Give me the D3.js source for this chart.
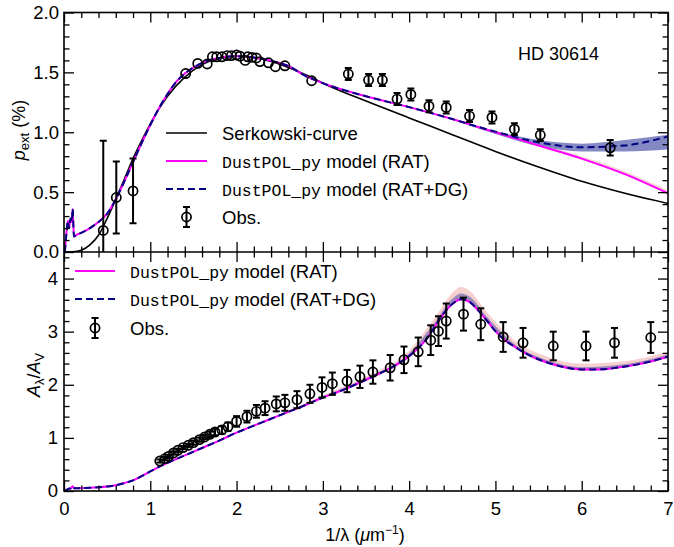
<!DOCTYPE html>
<html>
<head>
<meta charset="utf-8">
<script src="https://cdn.jsdelivr.net/npm/d3@7"></script>
<style>
  body { margin: 0; background: #fff; }
  svg { display: block; }
</style>
</head>
<body>
<svg id="chart" width="674" height="547"></svg>
<script>
// ---------- polarization panel (p_ext, %) ----------
const serkX = [0, 0.1, 0.2, 0.3, 0.4, 0.5, 0.6, 0.7, 0.8, 0.9, 1.0, 1.2, 1.4, 1.6, 1.8, 2.0, 2.2, 2.4, 2.6, 2.8, 3.0, 3.5, 4.0, 4.5, 5.0, 5.5, 6.0, 6.5, 7.0];
const serkP = [0, 0.002, 0.015, 0.06, 0.14, 0.28, 0.44, 0.61, 0.78, 0.93, 1.07, 1.30, 1.46, 1.565, 1.62, 1.635, 1.622, 1.59, 1.54, 1.48, 1.41, 1.26, 1.12, 0.98, 0.84, 0.71, 0.59, 0.49, 0.405];

const polModelX = [0.01, 0.03, 0.045, 0.06, 0.075, 0.09, 0.1, 0.115, 0.15, 0.2, 0.3, 0.4, 0.5, 0.6, 0.7, 0.8, 0.9, 1.0, 1.1, 1.2, 1.3, 1.4, 1.5, 1.6, 1.7, 1.8, 1.9, 2.0, 2.1, 2.2, 2.4, 2.6, 2.8, 3.0, 3.5, 4.0, 4.5, 4.8, 5.0, 5.5, 6.0, 6.5, 7.0];
const polRAT    = [0.0, 0.17, 0.26, 0.20, 0.28, 0.25, 0.36, 0.13, 0.145, 0.16, 0.20, 0.25, 0.32, 0.44, 0.59, 0.75, 0.91, 1.06, 1.20, 1.32, 1.42, 1.49, 1.54, 1.58, 1.605, 1.62, 1.632, 1.635, 1.632, 1.625, 1.597, 1.553, 1.47, 1.41, 1.30, 1.21, 1.11, 1.044, 1.00, 0.89, 0.78, 0.65, 0.49];
const polRATDG  = [0.0, 0.17, 0.26, 0.20, 0.28, 0.25, 0.36, 0.13, 0.145, 0.16, 0.20, 0.25, 0.32, 0.44, 0.59, 0.75, 0.91, 1.06, 1.20, 1.32, 1.42, 1.49, 1.54, 1.58, 1.605, 1.62, 1.632, 1.635, 1.632, 1.625, 1.597, 1.553, 1.47, 1.41, 1.30, 1.21, 1.11, 1.045, 1.005, 0.915, 0.875, 0.89, 0.965];

// uncertainty ranges of the two models
const polBandRATX  = [5.0, 5.5, 6.0, 6.5, 7.0];
const polBandRATLo = [0.99, 0.88, 0.77, 0.64, 0.48];
const polBandRATHi = [1.01, 0.905, 0.80, 0.675, 0.515];
const polBandDGX  = [4.6, 5.0, 5.5, 6.0, 6.5, 7.0];
const polBandDGLo = [1.08, 0.985, 0.885, 0.84, 0.84, 0.855];
const polBandDGHi = [1.09, 1.01, 0.935, 0.905, 0.935, 0.98];

// observed polarization
const polObsX = [0.455, 0.606, 0.80, 1.41, 1.55, 1.66, 1.72, 1.77, 1.83, 1.89, 1.94, 2.00, 2.04, 2.10, 2.13, 2.18, 2.23, 2.27, 2.37, 2.45, 2.56, 2.87, 3.295, 3.53, 3.69, 3.86, 4.02, 4.23, 4.43, 4.70, 4.96, 5.22, 5.52, 6.33];
const polObsP = [0.18, 0.455, 0.51, 1.49, 1.575, 1.57, 1.63, 1.63, 1.63, 1.64, 1.64, 1.645, 1.635, 1.60, 1.63, 1.625, 1.62, 1.59, 1.58, 1.547, 1.555, 1.43, 1.486, 1.436, 1.436, 1.277, 1.316, 1.218, 1.207, 1.135, 1.124, 1.026, 0.976, 0.87];
const polObsErr = [0.75, 0.30, 0.27, 0, 0, 0, 0, 0, 0, 0, 0, 0, 0, 0, 0, 0, 0, 0, 0, 0, 0, 0, 0.05, 0.05, 0.05, 0.05, 0.05, 0.05, 0.05, 0.05, 0.05, 0.05, 0.05, 0.065];

// ---------- extinction panel (A_lambda / A_V) ----------
const extModelX = [0.01, 0.03, 0.05, 0.08, 0.1, 0.12, 0.2, 0.3, 0.4, 0.5, 0.6, 0.7, 0.8, 0.9, 1.0, 1.2, 1.4, 1.6, 1.8, 2.0, 2.2, 2.4, 2.6, 2.8, 3.0, 3.2, 3.4, 3.6, 3.8, 4.0, 4.1, 4.2, 4.3, 4.4, 4.5, 4.6, 4.7, 4.8, 4.9, 5.0, 5.1, 5.2, 5.3, 5.4, 5.6, 5.8, 6.0, 6.2, 6.4, 6.6, 6.8, 7.0];
const extRAT   = [0.0, 0.02, 0.04, 0.05, 0.09, 0.05, 0.055, 0.06, 0.07, 0.085, 0.11, 0.15, 0.20, 0.28, 0.37, 0.53, 0.67, 0.81, 0.95, 1.10, 1.23, 1.36, 1.49, 1.62, 1.76, 1.88, 2.02, 2.17, 2.33, 2.54, 2.68, 2.86, 3.10, 3.34, 3.52, 3.61, 3.56, 3.40, 3.21, 3.01, 2.85, 2.74, 2.64, 2.55, 2.42, 2.33, 2.29, 2.29, 2.32, 2.37, 2.44, 2.53];
const extRATDG = [0.0, 0.02, 0.04, 0.05, 0.09, 0.05, 0.055, 0.06, 0.07, 0.085, 0.11, 0.15, 0.20, 0.28, 0.37, 0.53, 0.67, 0.81, 0.95, 1.10, 1.23, 1.36, 1.49, 1.62, 1.76, 1.88, 2.02, 2.17, 2.33, 2.54, 2.68, 2.86, 3.10, 3.34, 3.52, 3.61, 3.56, 3.40, 3.21, 3.01, 2.85, 2.74, 2.64, 2.55, 2.42, 2.33, 2.29, 2.29, 2.32, 2.37, 2.44, 2.53];

const extBandX     = [2.5, 3.0, 3.5, 4.0, 4.3, 4.5, 4.6, 4.7, 4.9, 5.2, 5.6, 6.0, 6.5, 7.0];
const extBandRATLo = [1.405, 1.74, 2.075, 2.52, 3.08, 3.50, 3.59, 3.54, 3.19, 2.72, 2.40, 2.27, 2.325, 2.51];
const extBandRATHi = [1.445, 1.80, 2.155, 2.64, 3.27, 3.73, 3.84, 3.77, 3.37, 2.86, 2.53, 2.40, 2.445, 2.62];
const extBandDGLo  = [1.415, 1.75, 2.085, 2.53, 3.09, 3.51, 3.60, 3.55, 3.20, 2.73, 2.41, 2.28, 2.335, 2.52];
const extBandDGHi  = [1.435, 1.78, 2.125, 2.59, 3.18, 3.62, 3.72, 3.66, 3.28, 2.79, 2.46, 2.33, 2.385, 2.57];

const extObsX = [1.11, 1.17, 1.21, 1.27, 1.32, 1.38, 1.44, 1.50, 1.57, 1.63, 1.69, 1.75, 1.83, 1.90, 2.00, 2.12, 2.23, 2.33, 2.46, 2.56, 2.70, 2.85, 2.99, 3.11, 3.28, 3.43, 3.58, 3.78, 3.94, 4.105, 4.25, 4.34, 4.43, 4.63, 4.83, 5.09, 5.32, 5.67, 6.05, 6.38, 6.80];
const extObsA = [0.565, 0.61, 0.65, 0.716, 0.766, 0.817, 0.86, 0.91, 0.968, 1.017, 1.068, 1.11, 1.15, 1.21, 1.31, 1.40, 1.50, 1.56, 1.64, 1.66, 1.72, 1.83, 1.95, 2.02, 2.07, 2.15, 2.24, 2.32, 2.47, 2.62, 2.84, 3.01, 3.20, 3.33, 3.14, 2.90, 2.79, 2.73, 2.73, 2.79, 2.89];
const extObsErr = [0.03, 0.03, 0.03, 0.03, 0.03, 0.03, 0.03, 0.04, 0.04, 0.04, 0.05, 0.06, 0.07, 0.08, 0.10, 0.11, 0.12, 0.13, 0.14, 0.15, 0.16, 0.17, 0.19, 0.21, 0.21, 0.21, 0.22, 0.24, 0.25, 0.27, 0.28, 0.28, 0.33, 0.31, 0.30, 0.28, 0.28, 0.27, 0.27, 0.28, 0.29];

// ---------- ticks ----------
const xMajorTicks = [0, 1, 2, 3, 4, 5, 6, 7];
const polMajorTicks = [0, 0.5, 1.0, 1.5, 2.0];
const extMajorTicks = [0, 1, 2, 3, 4];

const starName = "HD 30614";

// ---------- drawing ----------
const sans = '"Liberation Sans", Arial, Helvetica, sans-serif';
const mono = '"Liberation Mono", "Courier New", monospace';
const cMagenta = "#ff00ff";
const cNavy = "#000080";

const svg = d3.select("#chart");
const x = d3.scaleLinear().domain([0, 7]).range([64, 668]);
const yP = d3.scaleLinear().domain([0, 2]).range([252, 12.5]);
const yA = d3.scaleLinear().domain([0, 4.5]).range([491, 252]);

const defs = svg.append("defs");
defs.append("clipPath").attr("id", "clipTop").append("rect")
  .attr("x", 64).attr("y", 12.5).attr("width", 604).attr("height", 239.5);
defs.append("clipPath").attr("id", "clipBot").append("rect")
  .attr("x", 64).attr("y", 252).attr("width", 604).attr("height", 239);

const zip = (xs, ys) => xs.map((v, i) => [v, ys[i]]);
const lineFor = y => d3.line().x(d => x(d[0])).y(d => y(d[1])).curve(d3.curveMonotoneX);
const areaFor = y => d3.area().x(d => x(d[0])).y0(d => y(d[1])).y1(d => y(d[2])).curve(d3.curveMonotoneX);

function band(g, y, xs, lo, hi, fill, op) {
  g.append("path").datum(xs.map((v, i) => [v, lo[i], hi[i]]))
    .attr("d", areaFor(y)).attr("fill", fill).attr("fill-opacity", op).attr("stroke", "none");
}
function curve(g, y, xs, vs, color, width, dash) {
  const p = g.append("path").datum(zip(xs, vs))
    .attr("d", lineFor(y)).attr("fill", "none")
    .attr("stroke", color).attr("stroke-width", width)
    .attr("stroke-linejoin", "round");
  if (dash) p.attr("stroke-dasharray", dash);
}
function obsMarker(g, cx, cy, top, bot) {
  if (top !== null) {
    g.append("line").attr("x1", cx).attr("x2", cx).attr("y1", top).attr("y2", bot)
      .attr("stroke", "#000").attr("stroke-width", 2);
    [top, bot].forEach(yy => g.append("line")
      .attr("x1", cx - 3.5).attr("x2", cx + 3.5).attr("y1", yy).attr("y2", yy)
      .attr("stroke", "#000").attr("stroke-width", 2));
  }
  g.append("circle").attr("cx", cx).attr("cy", cy).attr("r", 4.6)
    .attr("fill", "none").attr("stroke", "#000").attr("stroke-width", 1.7);
}
function observations(g, y, xs, vs, es) {
  xs.forEach((v, i) => {
    const e = es[i];
    obsMarker(g, x(v), y(vs[i]), e > 0 ? y(vs[i] + e) : null, e > 0 ? y(vs[i] - e) : null);
  });
}

// top panel content
const gTop = svg.append("g").attr("clip-path", "url(#clipTop)");
band(gTop, yP, polBandRATX, polBandRATLo, polBandRATHi, "#f0a0a0", 0.45);
band(gTop, yP, polBandDGX, polBandDGLo, polBandDGHi, "#6f74ba", 0.85);
curve(gTop, yP, serkX, serkP, "#000", 1.6);
curve(gTop, yP, polModelX, polRAT, cMagenta, 2);
curve(gTop, yP, polModelX, polRATDG, cNavy, 2, "7,4");
observations(gTop, yP, polObsX, polObsP, polObsErr);

// bottom panel content
const gBot = svg.append("g").attr("clip-path", "url(#clipBot)");
band(gBot, yA, extBandX, extBandRATLo, extBandRATHi, "#eea0a0", 0.5);
band(gBot, yA, extBandX, extBandDGLo, extBandDGHi, "#6a62b0", 0.65);
curve(gBot, yA, extModelX, extRAT, cMagenta, 2);
curve(gBot, yA, extModelX, extRATDG, cNavy, 2, "7,4");
observations(gBot, yA, extObsX, extObsA, extObsErr);

// axes with inward ticks on all four sides
function ticks(axis, transform, labelled) {
  const g = svg.append("g").attr("transform", transform).call(axis);
  g.select(".domain").remove();
  g.selectAll(".tick line").attr("stroke", "#000").attr("stroke-width", 1.3);
  if (!labelled) g.selectAll(".tick text").remove();
  else g.selectAll(".tick text").attr("font-family", sans).attr("font-size", 18.5).attr("fill", "#000");
  return g;
}
const xMinor = d3.range(0, 7.001, 0.2).filter(v => Math.abs(v - Math.round(v)) > 1e-6);
const pMinor = d3.range(0, 2.001, 0.1).filter(v => Math.abs(v * 2 - Math.round(v * 2)) > 1e-6);
const aMinor = d3.range(0, 4.501, 0.2).filter(v => Math.abs(v - Math.round(v)) > 1e-6);
const MAJ = 10, MIN = 5.5;

// x ticks: top spine, shared middle spine (both directions), bottom spine
[["axisTop", "translate(0,12.5)"], ["axisBottom", "translate(0,252)"],
 ["axisTop", "translate(0,252)"], ["axisBottom", "translate(0,491)"]].forEach(([fn, tr], k) => {
  const labelled = k === 3;
  ticks(d3[fn](x).tickValues(xMajorTicks).tickSize(-MAJ).tickPadding(11).tickFormat(d3.format("d")), tr, labelled);
  ticks(d3[fn](x).tickValues(xMinor).tickSize(-MIN).tickFormat(""), tr, false);
});
// y ticks, polarization panel
ticks(d3.axisLeft(yP).tickValues(polMajorTicks).tickSize(-MAJ).tickPadding(5).tickFormat(d3.format(".1f")), "translate(64,0)", true);
ticks(d3.axisLeft(yP).tickValues(pMinor).tickSize(-MIN).tickFormat(""), "translate(64,0)", false);
ticks(d3.axisRight(yP).tickValues(polMajorTicks).tickSize(-MAJ).tickFormat(""), "translate(668,0)", false);
ticks(d3.axisRight(yP).tickValues(pMinor).tickSize(-MIN).tickFormat(""), "translate(668,0)", false);
// y ticks, extinction panel
ticks(d3.axisLeft(yA).tickValues(extMajorTicks).tickSize(-MAJ).tickPadding(6).tickFormat(d3.format("d")), "translate(64,0)", true);
ticks(d3.axisLeft(yA).tickValues(aMinor).tickSize(-MIN).tickFormat(""), "translate(64,0)", false);
ticks(d3.axisRight(yA).tickValues(extMajorTicks).tickSize(-MAJ).tickFormat(""), "translate(668,0)", false);
ticks(d3.axisRight(yA).tickValues(aMinor).tickSize(-MIN).tickFormat(""), "translate(668,0)", false);

// frames
svg.append("rect").attr("x", 64).attr("y", 12.5).attr("width", 604).attr("height", 478.5)
  .attr("fill", "none").attr("stroke", "#000").attr("stroke-width", 1.6);
svg.append("line").attr("x1", 64).attr("x2", 668).attr("y1", 252).attr("y2", 252)
  .attr("stroke", "#000").attr("stroke-width", 1.6);

// axis titles
const tP = svg.append("text").attr("transform", "translate(25,130) rotate(-90)")
  .attr("text-anchor", "middle").attr("font-family", sans).attr("font-size", 18);
tP.append("tspan").attr("font-style", "italic").text("p");
tP.append("tspan").attr("font-size", 13).attr("dy", 4).text("ext");
tP.append("tspan").attr("dy", -4).text(" (%)");

const tA = svg.append("text").attr("transform", "translate(40,375) rotate(-90)")
  .attr("text-anchor", "middle").attr("font-family", sans).attr("font-size", 18);
tA.append("tspan").attr("font-style", "italic").text("A");
tA.append("tspan").attr("font-size", 13).attr("dy", 4).text("λ");
tA.append("tspan").attr("dy", -4).text("/");
tA.append("tspan").attr("font-style", "italic").text("A");
tA.append("tspan").attr("font-size", 13).attr("dy", 4).text("V");

const tX = svg.append("text").attr("x", 365).attr("y", 541)
  .attr("text-anchor", "middle").attr("font-family", sans).attr("font-size", 18);
tX.append("tspan").text("1/λ (");
tX.append("tspan").attr("font-style", "italic").text("μ");
tX.append("tspan").text("m");
tX.append("tspan").attr("font-size", 12).attr("dy", -7).text("−1");
tX.append("tspan").attr("dy", 7).text(")");

svg.append("text").attr("x", 518).attr("y", 60).attr("font-family", sans)
  .attr("font-size", 18).text(starName);

// legends
function legendText(x0, y0, mainMono, rest) {
  const t = svg.append("text").attr("x", x0).attr("y", y0 + 6.5)
    .attr("font-family", sans).attr("font-size", 18.5);
  if (mainMono) t.append("tspan").attr("font-family", mono).attr("font-size", 16.5).text(mainMono);
  t.append("tspan").text(rest);
}
function legendLine(x0, x1, y0, color, dash, w) {
  const l = svg.append("line").attr("x1", x0).attr("x2", x1).attr("y1", y0).attr("y2", y0)
    .attr("stroke", color).attr("stroke-width", w);
  if (dash) l.attr("stroke-dasharray", dash);
}
const topRows = [133, 161, 189, 217];
legendLine(166, 207, topRows[0], "#000", null, 1.6);
legendText(222, topRows[0], null, "Serkowski-curve");
legendLine(166, 207, topRows[1], cMagenta, null, 2);
legendText(222, topRows[1], "DustPOL_py", " model (RAT)");
legendLine(166, 207, topRows[2], cNavy, "7,4", 2);
legendText(222, topRows[2], "DustPOL_py", " model (RAT+DG)");
obsMarker(svg, 186.5, topRows[3], topRows[3] - 10, topRows[3] + 10);
legendText(222, topRows[3], null, "Obs.");

const botRows = [271, 299, 328];
legendLine(75, 115, botRows[0], cMagenta, null, 2);
legendText(130, botRows[0], "DustPOL_py", " model (RAT)");
legendLine(75, 115, botRows[1], cNavy, "7,4", 2);
legendText(130, botRows[1], "DustPOL_py", " model (RAT+DG)");
obsMarker(svg, 95, botRows[2], botRows[2] - 10, botRows[2] + 10);
legendText(130, botRows[2], null, "Obs.");
</script>
</body>
</html>
